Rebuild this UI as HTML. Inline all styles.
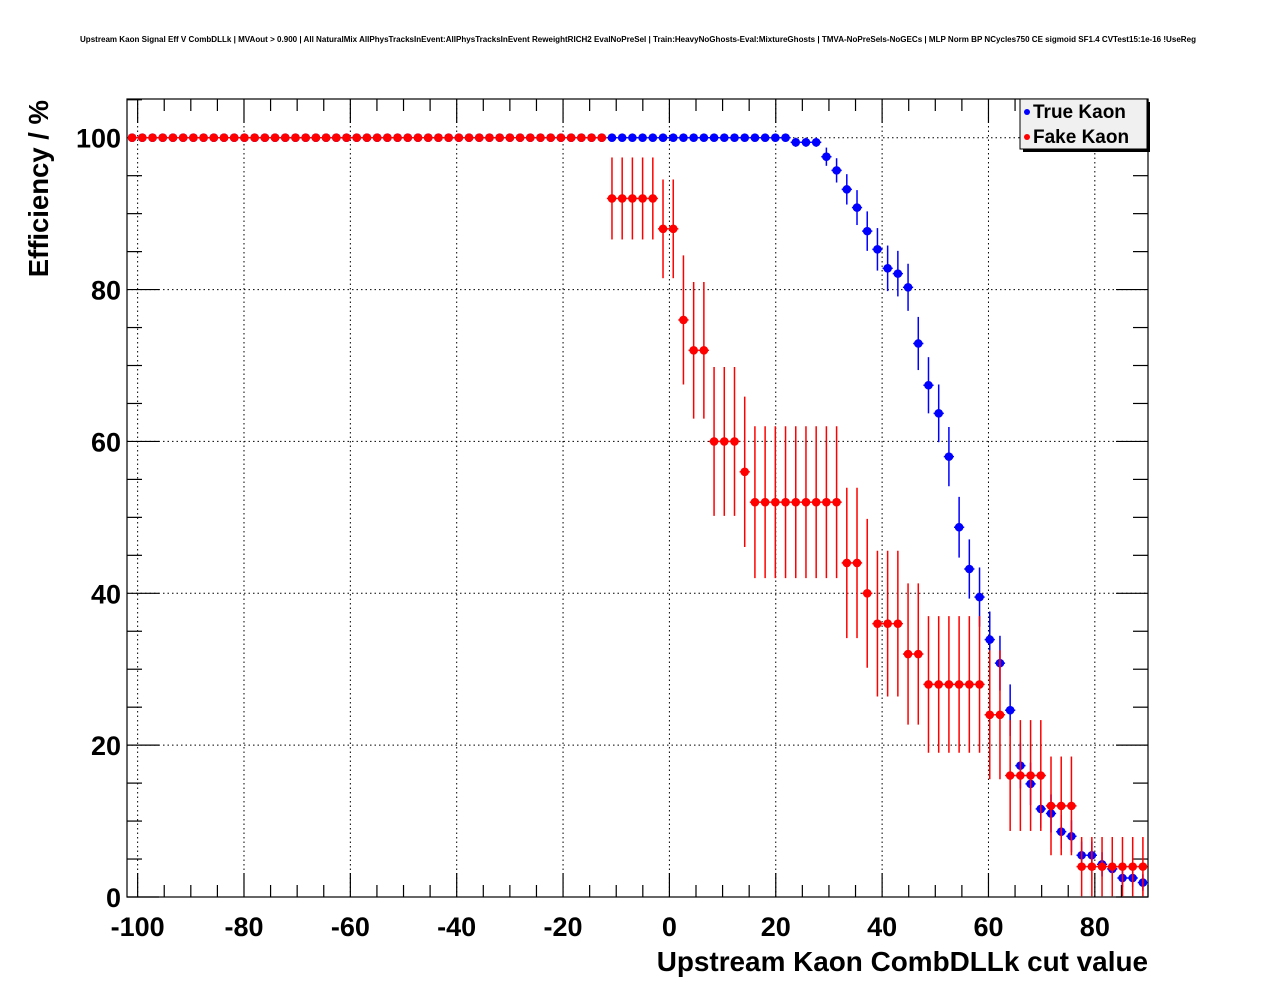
<!DOCTYPE html>
<html><head><meta charset="utf-8"><style>
body{margin:0;background:#fff;}
svg{display:block;font-family:"Liberation Sans",sans-serif;}
</style></head><body>
<svg id="chart" width="1276" height="996" xmlns="http://www.w3.org/2000/svg">
<rect width="1276" height="996" fill="#fff"/>
<text x="80" y="42" font-size="7.8" font-weight="bold" textLength="1116" lengthAdjust="spacingAndGlyphs">Upstream Kaon Signal Eff V CombDLLk | MVAout &gt; 0.900 | All NaturalMix AllPhysTracksInEvent:AllPhysTracksInEvent ReweightRICH2 EvalNoPreSel | Train:HeavyNoGhosts-Eval:MixtureGhosts | TMVA-NoPreSels-NoGECs | MLP Norm BP NCycles750 CE sigmoid SF1.4 CVTest15:1e-16 !UseReg</text>
<g id="grid"></g>
<g id="ticks"></g>
<g id="series"></g>
<rect x="127" y="99" width="1021" height="798" fill="none" stroke="#000" stroke-width="1.2"/>
<text x="1148" y="971" font-size="27.9" font-weight="bold" text-anchor="end">Upstream Kaon CombDLLk cut value</text>
<text transform="translate(48,100) rotate(-90)" font-size="27.5" font-weight="bold" text-anchor="end">Efficiency / %</text>
<g>
<rect x="1023" y="102" width="127" height="50" fill="#000"/>
<rect x="1020" y="99" width="127" height="50" fill="#f0f0f0" stroke="#000" stroke-width="1"/>
<circle cx="1027" cy="112" r="3" fill="#00f"/>
<text x="1033" y="118" font-size="19" font-weight="bold">True Kaon</text>
<circle cx="1027" cy="137" r="3" fill="#f00"/>
<text x="1033" y="143" font-size="19" font-weight="bold">Fake Kaon</text>
</g>
</svg>
<script>
const xTicks=[-100,-80,-60,-40,-20,0,20,40,60,80];
const yTicks=[0,20,40,60,80,100];
const trueEff=[100,100,100,100,100,100,100,100,100,100,100,100,100,100,100,100,100,100,100,100,100,100,100,100,100,100,100,100,100,100,100,100,100,100,100,100,100,100,100,100,100,100,100,100,100,100,100,100,100,100,100,100,100,100,100,100,100,100,100,100,100,100,100,100,100,99.4,99.4,99.4,97.5,95.7,93.2,90.8,87.7,85.3,82.8,82.1,80.3,72.9,67.4,63.7,58.0,48.7,43.2,39.5,33.9,30.8,24.6,17.3,14.9,11.6,11.0,8.6,8.0,5.5,5.5,4.3,3.7,2.5,2.5,1.9];
const trueErr=[0,0,0,0,0,0,0,0,0,0,0,0,0,0,0,0,0,0,0,0,0,0,0,0,0,0,0,0,0,0,0,0,0,0,0,0,0,0,0,0,0,0,0,0,0,0,0,0,0,0,0,0,0,0,0,0,0,0,0,0,0,0,0,0,0,0.6,0.6,0.6,1.2,1.6,2.0,2.3,2.6,2.8,3.0,3.0,3.1,3.5,3.7,3.8,3.9,4.0,3.9,3.9,3.7,3.6,3.4,3.0,2.8,2.5,2.5,2.2,2.1,1.8,1.8,1.6,1.5,1.2,1.2,1.1];
const fakeEff=[100,100,100,100,100,100,100,100,100,100,100,100,100,100,100,100,100,100,100,100,100,100,100,100,100,100,100,100,100,100,100,100,100,100,100,100,100,100,100,100,100,100,100,100,100,100,100,92,92,92,92,92,88,88,76,72,72,60,60,60,56,52,52,52,52,52,52,52,52,52,44,44,40,36,36,36,32,32,28,28,28,28,28,28,24,24,16,16,16,16,12,12,12,4,4,4,4,4,4,4];
const fakeErr=[0,0,0,0,0,0,0,0,0,0,0,0,0,0,0,0,0,0,0,0,0,0,0,0,0,0,0,0,0,0,0,0,0,0,0,0,0,0,0,0,0,0,0,0,0,0,0,5.4,5.4,5.4,5.4,5.4,6.5,6.5,8.5,9.0,9.0,9.8,9.8,9.8,9.9,10,10,10,10,10,10,10,10,10,9.9,9.9,9.8,9.6,9.6,9.6,9.3,9.3,9.0,9.0,9.0,9.0,9.0,9.0,8.5,8.5,7.3,7.3,7.3,7.3,6.5,6.5,6.5,3.9,3.9,3.9,3.9,3.9,3.9,3.9];
const XMIN=-102,XMAX=90,YMIN=0,YMAX=105.1,BW=1.92;
const L=127,R=1148,T=99,B=897;
const xs=v=>L+(v-XMIN)/(XMAX-XMIN)*(R-L);
const ys=v=>B-(v-YMIN)/(YMAX-YMIN)*(B-T);
const NS="http://www.w3.org/2000/svg";
function mk(tag,attrs,parent){const e=document.createElementNS(NS,tag);for(const k in attrs)e.setAttribute(k,attrs[k]);parent.appendChild(e);return e;}
const grid=document.getElementById('grid'),ticks=document.getElementById('ticks'),series=document.getElementById('series');
xTicks.forEach(t=>{
  const x=xs(t);
  const g=mk('line',{x1:x,x2:x,y1:T,y2:B,stroke:'#000','stroke-dasharray':'1.5,3','stroke-width':1},grid);
  
  
  mk('line',{x1:x,x2:x,y1:B,y2:B-24,stroke:'#000','stroke-width':1.2},ticks);
  mk('line',{x1:x,x2:x,y1:T,y2:T+24,stroke:'#000','stroke-width':1.2},ticks);
  const lb=mk('text',{x:x,y:936,'font-size':27,'font-weight':'bold','text-anchor':'middle'},ticks);
  lb.textContent=t;
  
  
});
for(let v=-100;v<=90;v+=5){if(v%20===0)continue;const x=xs(v);
  mk('line',{x1:x,x2:x,y1:B,y2:B-12,stroke:'#000','stroke-width':1.2},ticks);
  mk('line',{x1:x,x2:x,y1:T,y2:T+12,stroke:'#000','stroke-width':1.2},ticks);}
yTicks.forEach(t=>{
  const y=ys(t);
  if(t>0){const g=mk('line',{x1:L,x2:R,y1:y,y2:y,stroke:'#000','stroke-dasharray':'1.5,3','stroke-width':1},grid);
  
  }
  mk('line',{x1:L,x2:L+32,y1:y,y2:y,stroke:'#000','stroke-width':1.2},ticks);
  mk('line',{x1:R,x2:R-32,y1:y,y2:y,stroke:'#000','stroke-width':1.2},ticks);
  const lb=mk('text',{x:121,y:y+10,'font-size':27,'font-weight':'bold','text-anchor':'end'},ticks);
  lb.textContent=t;
  
  
});
for(let v=5;v<=105;v+=5){if(v%20===0)continue;const y=ys(v);
  mk('line',{x1:L,x2:L+15,y1:y,y2:y,stroke:'#000','stroke-width':1.2},ticks);
  mk('line',{x1:R,x2:R-15,y1:y,y2:y,stroke:'#000','stroke-width':1.2},ticks);}
function drawSeries(vals,errs,color,name){
  const g=mk('g',{},series);
  
  
  vals.forEach((v,i)=>{
    const c=XMIN+BW*(i+0.5),x=xs(c),y=ys(v);
    mk('line',{x1:xs(c-BW/2),x2:xs(c+BW/2),y1:y,y2:y,stroke:color,'stroke-width':1.5},g);
    if(errs[i]>0){mk('line',{x1:x,x2:x,y1:Math.max(T,ys(v+errs[i])),y2:Math.min(B,ys(v-errs[i])),stroke:color,'stroke-width':1.5},g);}
    const p=mk('circle',{cx:x,cy:y,r:4.3,fill:color},g);
    
    
  });
}
drawSeries(trueEff,trueErr,'#0000ff','true-kaon');
drawSeries(fakeEff,fakeErr,'#ff0000','fake-kaon');
</script>
</body></html>
